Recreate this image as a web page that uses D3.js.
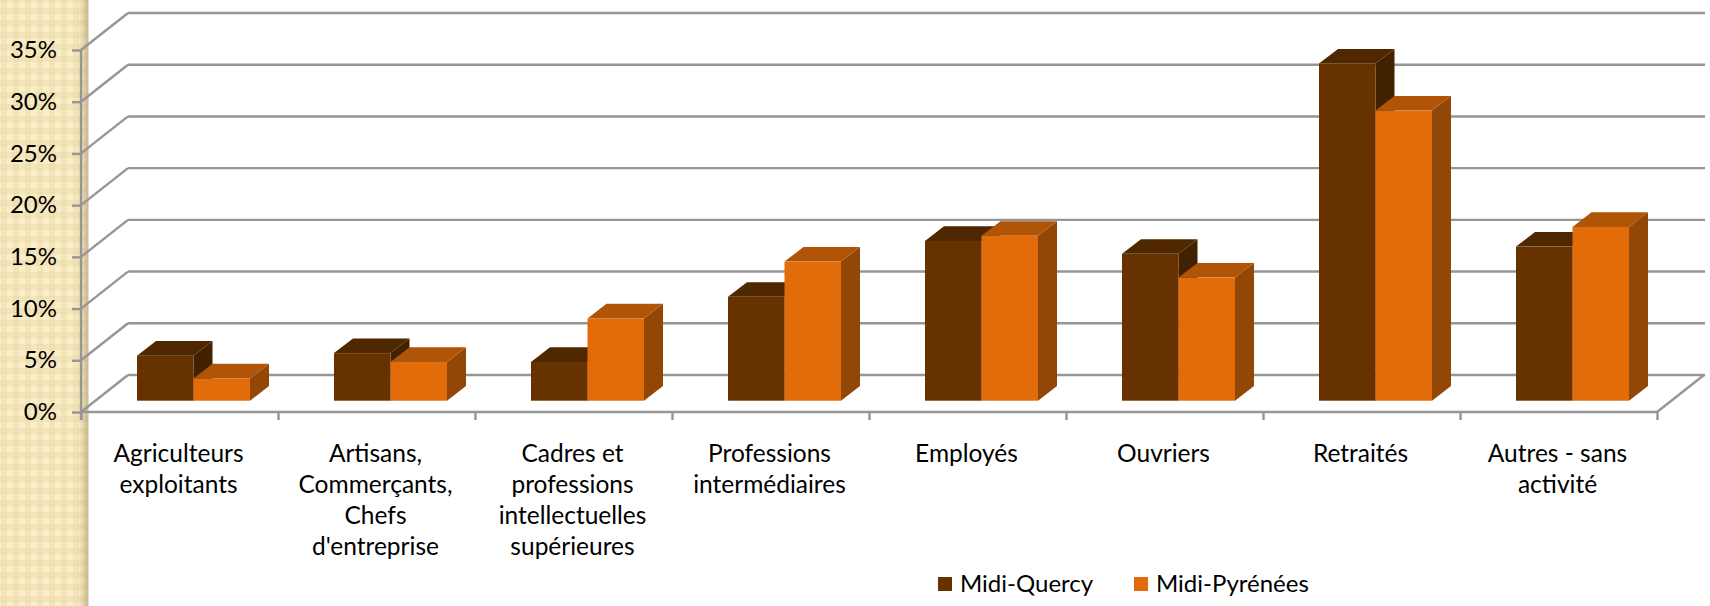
<!DOCTYPE html>
<html>
<head>
<meta charset="utf-8">
<script src="https://cdn.jsdelivr.net/npm/d3@7"></script>
<style>
    html, body { margin: 0; padding: 0; background: #fff; overflow: hidden; }
    text { font-family: Lato, "Open Sans", sans-serif; fill: #000; }
</style>
</head>
<body>
<script>
//categories, one array per label line
var categories = [
    ["Agriculteurs", "exploitants"],
    ["Artisans,", "Commerçants,", "Chefs", "d'entreprise"],
    ["Cadres et", "professions", "intellectuelles", "supérieures"],
    ["Professions", "intermédiaires"],
    ["Employés"],
    ["Ouvriers"],
    ["Retraités"],
    ["Autres - sans", "activité"]
];
var seriesNames = ["Midi-Quercy", "Midi-Pyrénées"];
var midiQuercy = [4.35, 4.6, 3.75, 10.05, 15.45, 14.2, 32.6, 14.9];
var midiPyrenees = [2.15, 3.75, 7.95, 13.45, 15.95, 11.9, 28.05, 16.8];
var yTicks = [0, 5, 10, 15, 20, 25, 30, 35];

var width = 1710, height = 606;
var fontSize = 24.5;

//3d chart box
var left = 81, right = 1657, floorY = 412, topY = 50;
var backDx = 47, backDy = 37;
//depth of the bars inside the box
var barOffsetX = 14, barOffsetY = 11.3;
var barDepthX = 19, barDepthY = 14.6;
var groupGap = 42;

var colors = [
    { front: "#663300", top: "#4f2800", side: "#422100" },
    { front: "#e36c0a", top: "#b05408", side: "#934707" }
];
var gridColor = "#969696";

var svg = d3.select("body").append("svg")
    .attr("width", width)
    .attr("height", height)
    .style("display", "block");

var defs = svg.append("defs");

//beige band pattern on the left
var pattern = defs.append("pattern")
    .attr("id", "band")
    .attr("patternUnits", "userSpaceOnUse")
    .attr("patternTransform", "translate(1,8)")
    .attr("width", 12)
    .attr("height", 12);
pattern.append("rect").attr("width", 12).attr("height", 12).attr("fill", "#fbedc5");
pattern.append("rect").attr("width", 6).attr("height", 12).attr("fill", "#dccb9c").attr("opacity", 0.28);
pattern.append("rect").attr("width", 12).attr("height", 6).attr("fill", "#dccb9c").attr("opacity", 0.28);
pattern.append("rect").attr("x", 2).attr("y", 2).attr("width", 2).attr("height", 2).attr("fill", "#fbedc5").attr("opacity", 0.5);

var shade = defs.append("linearGradient").attr("id", "bandShade");
shade.append("stop").attr("offset", "0").attr("stop-color", "#b09a68").attr("stop-opacity", 0);
shade.append("stop").attr("offset", "1").attr("stop-color", "#b09a68").attr("stop-opacity", 0.55);

svg.append("rect").attr("width", 88).attr("height", height).attr("fill", "url(#band)");
svg.append("rect").attr("x", 78).attr("width", 10).attr("height", height).attr("fill", "url(#bandShade)");
svg.append("rect").attr("x", 88).attr("width", 1).attr("height", height).attr("fill", "#dcdcdc");

//scales
var yScale = d3.scaleLinear().domain([0, 35]).range([floorY, topY]);
var xScale = d3.scaleBand()
    .domain(d3.range(categories.length))
    .range([left, right]);
var xSeries = d3.scaleBand()
    .domain([0, 1])
    .range([groupGap, xScale.bandwidth() - groupGap]);

//grid on the back wall and the left wall
var grid = svg.append("g").attr("fill", "none").attr("stroke", gridColor).attr("stroke-width", 2.4);
grid.selectAll(".back")
    .data(yTicks)
    .join("line")
    .attr("class", "back")
    .attr("x1", left + backDx)
    .attr("x2", right + backDx + 1)
    .attr("y1", d => yScale(d) - backDy)
    .attr("y2", d => yScale(d) - backDy);
grid.selectAll(".diag")
    .data(yTicks)
    .join("line")
    .attr("class", "diag")
    .attr("x1", left)
    .attr("x2", left + backDx)
    .attr("y1", d => yScale(d))
    .attr("y2", d => yScale(d) - backDy);
grid.append("line")
    .attr("x1", right)
    .attr("x2", right + backDx)
    .attr("y1", floorY)
    .attr("y2", floorY - backDy);

//axes
var yAxis = d3.axisLeft(yScale)
    .tickValues(yTicks)
    .tickFormat(d => d + "%")
    .tickSize(9)
    .tickPadding(15);
var yAxisG = svg.append("g").attr("transform", `translate(${left},0)`).call(yAxis);
yAxisG.selectAll("line, path").attr("stroke", gridColor).attr("stroke-width", 2.4);
yAxisG.select("path").attr("d", `M0,${topY}V${floorY + 8}`);
yAxisG.selectAll("text")
    .attr("font-size", 24)
    .attr("font-family", null)
    .attr("fill", null);

var xTickScale = d3.scaleLinear().domain([0, categories.length]).range([left, right]);
var xAxis = d3.axisBottom(xTickScale)
    .tickValues(d3.range(categories.length + 1))
    .tickFormat("")
    .tickSize(8);
var xAxisG = svg.append("g").attr("transform", `translate(0,${floorY})`).call(xAxis);
xAxisG.selectAll("line, path").attr("stroke", gridColor).attr("stroke-width", 2.4);
xAxisG.select("path").attr("d", `M${left},0H${right}`);

//bars
var baseY = yScale(0) - barOffsetY;
var barHeight = v => yScale(0) - yScale(v);

var barData = [];
categories.forEach((c, i) => {
    [midiQuercy[i], midiPyrenees[i]].forEach((v, s) => {
        barData.push({ cat: i, s: s, value: v });
    });
});

var bars = svg.append("g").selectAll("g")
    .data(barData)
    .join("g")
    .attr("transform", d => `translate(${xScale(d.cat) + xSeries(d.s) + barOffsetX},${baseY})`);

var w = xSeries.bandwidth();

bars.append("path")
    .attr("fill", d => colors[d.s].side)
    .attr("d", d => {
        let h = barHeight(d.value);
        return `M${w},0L${w + barDepthX},${-barDepthY}L${w + barDepthX},${-h - barDepthY}L${w},${-h}Z`;
    });
bars.append("path")
    .attr("fill", d => colors[d.s].top)
    .attr("d", d => {
        let h = barHeight(d.value);
        return `M0,${-h}L${barDepthX},${-h - barDepthY}L${w + barDepthX},${-h - barDepthY}L${w},${-h}Z`;
    });
bars.append("rect")
    .attr("fill", d => colors[d.s].front)
    .attr("x", 0)
    .attr("y", d => -barHeight(d.value))
    .attr("width", w)
    .attr("height", d => barHeight(d.value));

//category labels
var labels = svg.append("g").selectAll("text")
    .data(categories)
    .join("text")
    .attr("text-anchor", "middle")
    .attr("font-size", fontSize)
    .attr("transform", (d, i) => `translate(${xScale(i) + xScale.bandwidth() / 2 - 1},462)`);
labels.selectAll("tspan")
    .data(d => d)
    .join("tspan")
    .attr("x", 0)
    .attr("y", (d, i) => i * 31)
    .text(d => d);

//legend
var legendX = [938, 1134];
var legend = svg.append("g").selectAll("g")
    .data(seriesNames)
    .join("g")
    .attr("transform", (d, i) => `translate(${legendX[i]},577)`);
legend.append("rect")
    .attr("width", 14)
    .attr("height", 14)
    .attr("fill", (d, i) => colors[i].front);
legend.append("text")
    .attr("x", 22)
    .attr("y", 15)
    .attr("font-size", 24)
    .text(d => d);
</script>
</body>
</html>
